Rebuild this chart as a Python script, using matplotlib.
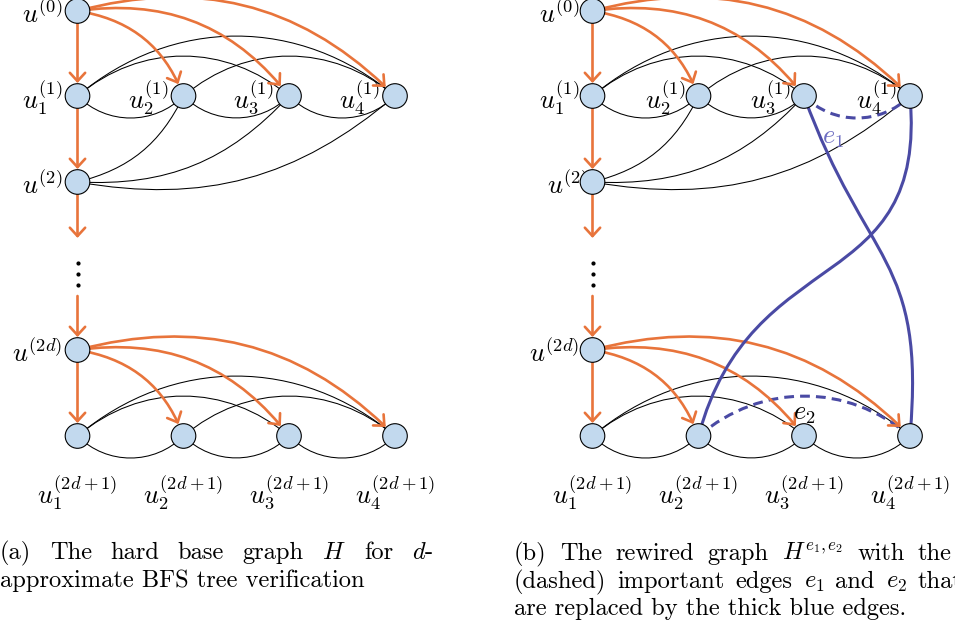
import numpy as np
import matplotlib
matplotlib.use("Agg")
import matplotlib.pyplot as plt
from matplotlib.path import Path
from matplotlib.patches import PathPatch, FancyArrowPatch, Circle
from matplotlib.bezier import BezierSegment, split_de_casteljau

plt.rcParams['mathtext.fontset'] = 'cm'

# ---- layout of the two graphs (pixels, y grows downwards) ----
col_x = [77.5, 183.5, 289.0, 395.0]
row_y = [11, 96, 182, 350, 436]          # u(0), u_i(1), u(2), u(2d), u_i(2d+1)
panel_dx = [0, 515]
gap_y = [238, 296]                       # arrow ends around the vertical dots
dots_y = [263, 274, 285]
node_r = 12.3

# node name -> (column, row)
nodes = {'s0': (0, 0), 'a1': (0, 1), 'a2': (1, 1), 'a3': (2, 1), 'a4': (3, 1),
         's2': (0, 2), 's2d': (0, 3),
         'b1': (0, 4), 'b2': (1, 4), 'b3': (2, 4), 'b4': (3, 4)}

# BFS tree edges (orange arrows): from, to, bend (>0 bend left)
tree_edges = [('s0', 'a1', 0), ('s0', 'a2', 30), ('s0', 'a3', 30), ('s0', 'a4', 30),
              ('a1', 's2', 0),
              ('s2d', 'b1', 0), ('s2d', 'b2', 30), ('s2d', 'b3', 30), ('s2d', 'b4', 30)]
# edges inside a row (column i, column j, bend)
row_edges = [(1, 2, -45), (2, 3, -45), (3, 4, -45), (1, 3, 40), (1, 4, 40), (2, 4, 40)]
level2_edges = [('s2', 'a2', -25), ('s2', 'a3', -25), ('s2', 'a4', -25)]
# panel (b): dashed important edges and the thick replacement edges
important = [('a3', 'a4', -45), ('b2', 'b4', 40)]
rewired = [('a3', 'b4', -70, 85, 1.3), ('a4', 'b2', -85, 75, 1.3)]

left_labels = {'s0': r'$u^{(0)}$', 'a1': r'$u_1^{(1)}$', 'a2': r'$u_2^{(1)}$',
               'a3': r'$u_3^{(1)}$', 'a4': r'$u_4^{(1)}$', 's2': r'$u^{(2)}$',
               's2d': r'$u^{(2d)}$'}
bottom_labels = [r'$u_1^{(2d+1)}$', r'$u_2^{(2d+1)}$', r'$u_3^{(2d+1)}$', r'$u_4^{(2d+1)}$']
label_gap = [3, 1]

cap_a = [['(a)', 'The', 'hard', 'base', 'graph', '$H$', 'for', '$d$-'],
         'approximate BFS tree verification']
cap_b = [['(b)', 'The', 'rewired', 'graph', '$H^{e_1,e_2}$', 'with', 'the'],
         ['(dashed)', 'important', 'edges', '$e_1$', 'and', '$e_2$', 'that'],
         'are replaced by the thick blue edges.']

ORANGE = '#E8743B'
BLUE = '#4A4AA4'
E1COL = '#6E6EC2'
FILL = '#C2D9EE'
LABEL_FS = 19
CAP_FS = 17.6


def pos(name, p):
    c, r = nodes[name]
    return np.array([col_x[c] + panel_dx[p], row_y[r]], dtype=float)


def ctrl(p, q, bend=0, out_a=None, in_a=None, loose=1.0):
    # tikz-like cubic: out/in angles measured like on paper (y up)
    dx, dy = q - p
    L = np.hypot(dx, dy)
    chord = np.degrees(np.arctan2(-dy, dx))
    if out_a is None:
        out_a = chord + bend
        in_a = chord + 180 - bend
    d = 0.3915 * loose * L
    u = lambda a: np.array([np.cos(np.radians(a)), -np.sin(np.radians(a))])
    return np.array([p, p + d * u(out_a), q + d * u(in_a), q])


def trim_end(cp, r):
    seg = BezierSegment(cp)
    lo, hi = 0.0, 1.0
    for _ in range(40):
        t = (lo + hi) / 2
        if np.hypot(*(seg.point_at_t(t) - cp[-1])) > r:
            lo = t
        else:
            hi = t
    left, _ = split_de_casteljau(cp, lo)
    return np.array(left)


def cubic(cp):
    return Path(cp, [Path.MOVETO, Path.CURVE4, Path.CURVE4, Path.CURVE4])


def line(ax, cp, **kw):
    ax.add_patch(PathPatch(cubic(cp), fill=False, capstyle='butt', **kw))


def arrow(ax, cp, trim=True):
    if trim:
        cp = trim_end(cp, node_r + 0.6)
    ax.add_patch(FancyArrowPatch(path=cubic(cp), arrowstyle='->,head_length=0.6,head_width=0.55',
                                 mutation_scale=10, color=ORANGE, lw=1.9, zorder=3))


def put_line(ax, fig, words, y, x0, x_last):
    texts = [ax.text(0, y, w, fontsize=CAP_FS, family='cmr10', va='baseline') for w in words]
    rend = fig.canvas.get_renderer()
    widths = [t.get_window_extent(rend).width for t in texts]
    gap = (x_last - x0 - sum(widths[:-1])) / (len(words) - 1)
    x = x0
    for t, w in zip(texts, widths):
        t.set_x(x)
        x += w + gap


fig = plt.figure(figsize=(9.55, 6.3), dpi=100)
ax = fig.add_axes([0, 0, 1, 1])
ax.set_xlim(0, 955)
ax.set_ylim(630, 0)
ax.axis('off')

for p in range(2):
    # thin black edges
    for row in ['a', 'b']:
        for i, j, b in row_edges:
            if p == 1 and (row + str(i), row + str(j), b) in important:
                continue
            line(ax, ctrl(pos(row + str(i), p), pos(row + str(j), p), bend=b),
                 color='black', lw=0.75, zorder=1)
    for s, t, b in level2_edges:
        line(ax, ctrl(pos(s, p), pos(t, p), bend=b), color='black', lw=0.75, zorder=1)

    # orange BFS tree
    for s, t, b in tree_edges:
        arrow(ax, ctrl(pos(s, p), pos(t, p), bend=b))
    x = col_x[0] + panel_dx[p]
    top = pos('s2', p) + [0, node_r]
    arrow(ax, ctrl(top, np.array([x, gap_y[0]])), trim=False)
    arrow(ax, ctrl(np.array([x, gap_y[1]]), pos('s2d', p)))
    ax.plot([x] * len(dots_y), dots_y, 'o', color='black', ms=2.0, zorder=2)

    # nodes
    for name in nodes:
        ax.add_patch(Circle(pos(name, p), node_r, facecolor=FILL, edgecolor='black',
                            lw=0.8, zorder=4))
    for name, txt in left_labels.items():
        xy = pos(name, p)
        g = label_gap[p] - (8 if (p == 1 and name == 's2') else 0)
        ax.text(xy[0] - node_r - g, xy[1] + 12, txt, fontsize=LABEL_FS, ha='right',
                va='baseline', zorder=2)
    for c, txt in enumerate(bottom_labels):
        ax.text(col_x[c] + panel_dx[p], 503, txt, fontsize=LABEL_FS, ha='center',
                va='baseline')

# panel (b): important edges (dashed) and rewired thick edges
for s, t, b in important:
    line(ax, ctrl(pos(s, 1), pos(t, 1), bend=b), color=BLUE, lw=2.2,
         linestyle=(0, (3.2, 2.0)), zorder=2)
for s, t, o, i, lo in rewired:
    line(ax, ctrl(pos(s, 1), pos(t, 1), out_a=o, in_a=i, loose=lo), color=BLUE,
         lw=2.2, zorder=3)
ax.text(833, 137, r'$e_1$', fontsize=LABEL_FS, color=E1COL, ha='center', va='center')
ax.text(804, 413, r'$e_2$', fontsize=LABEL_FS, ha='center', va='center')

# captions
put_line(ax, fig, cap_a[0], 559, 0, 412)
ax.text(0, 587, cap_a[1], fontsize=CAP_FS, family='cmr10', va='baseline')
put_line(ax, fig, cap_b[0], 560, 514, 918)
put_line(ax, fig, cap_b[1], 588, 514, 918)
ax.text(514, 615, cap_b[2], fontsize=CAP_FS, family='cmr10', va='baseline')

fig.savefig('out.png', dpi=100)
